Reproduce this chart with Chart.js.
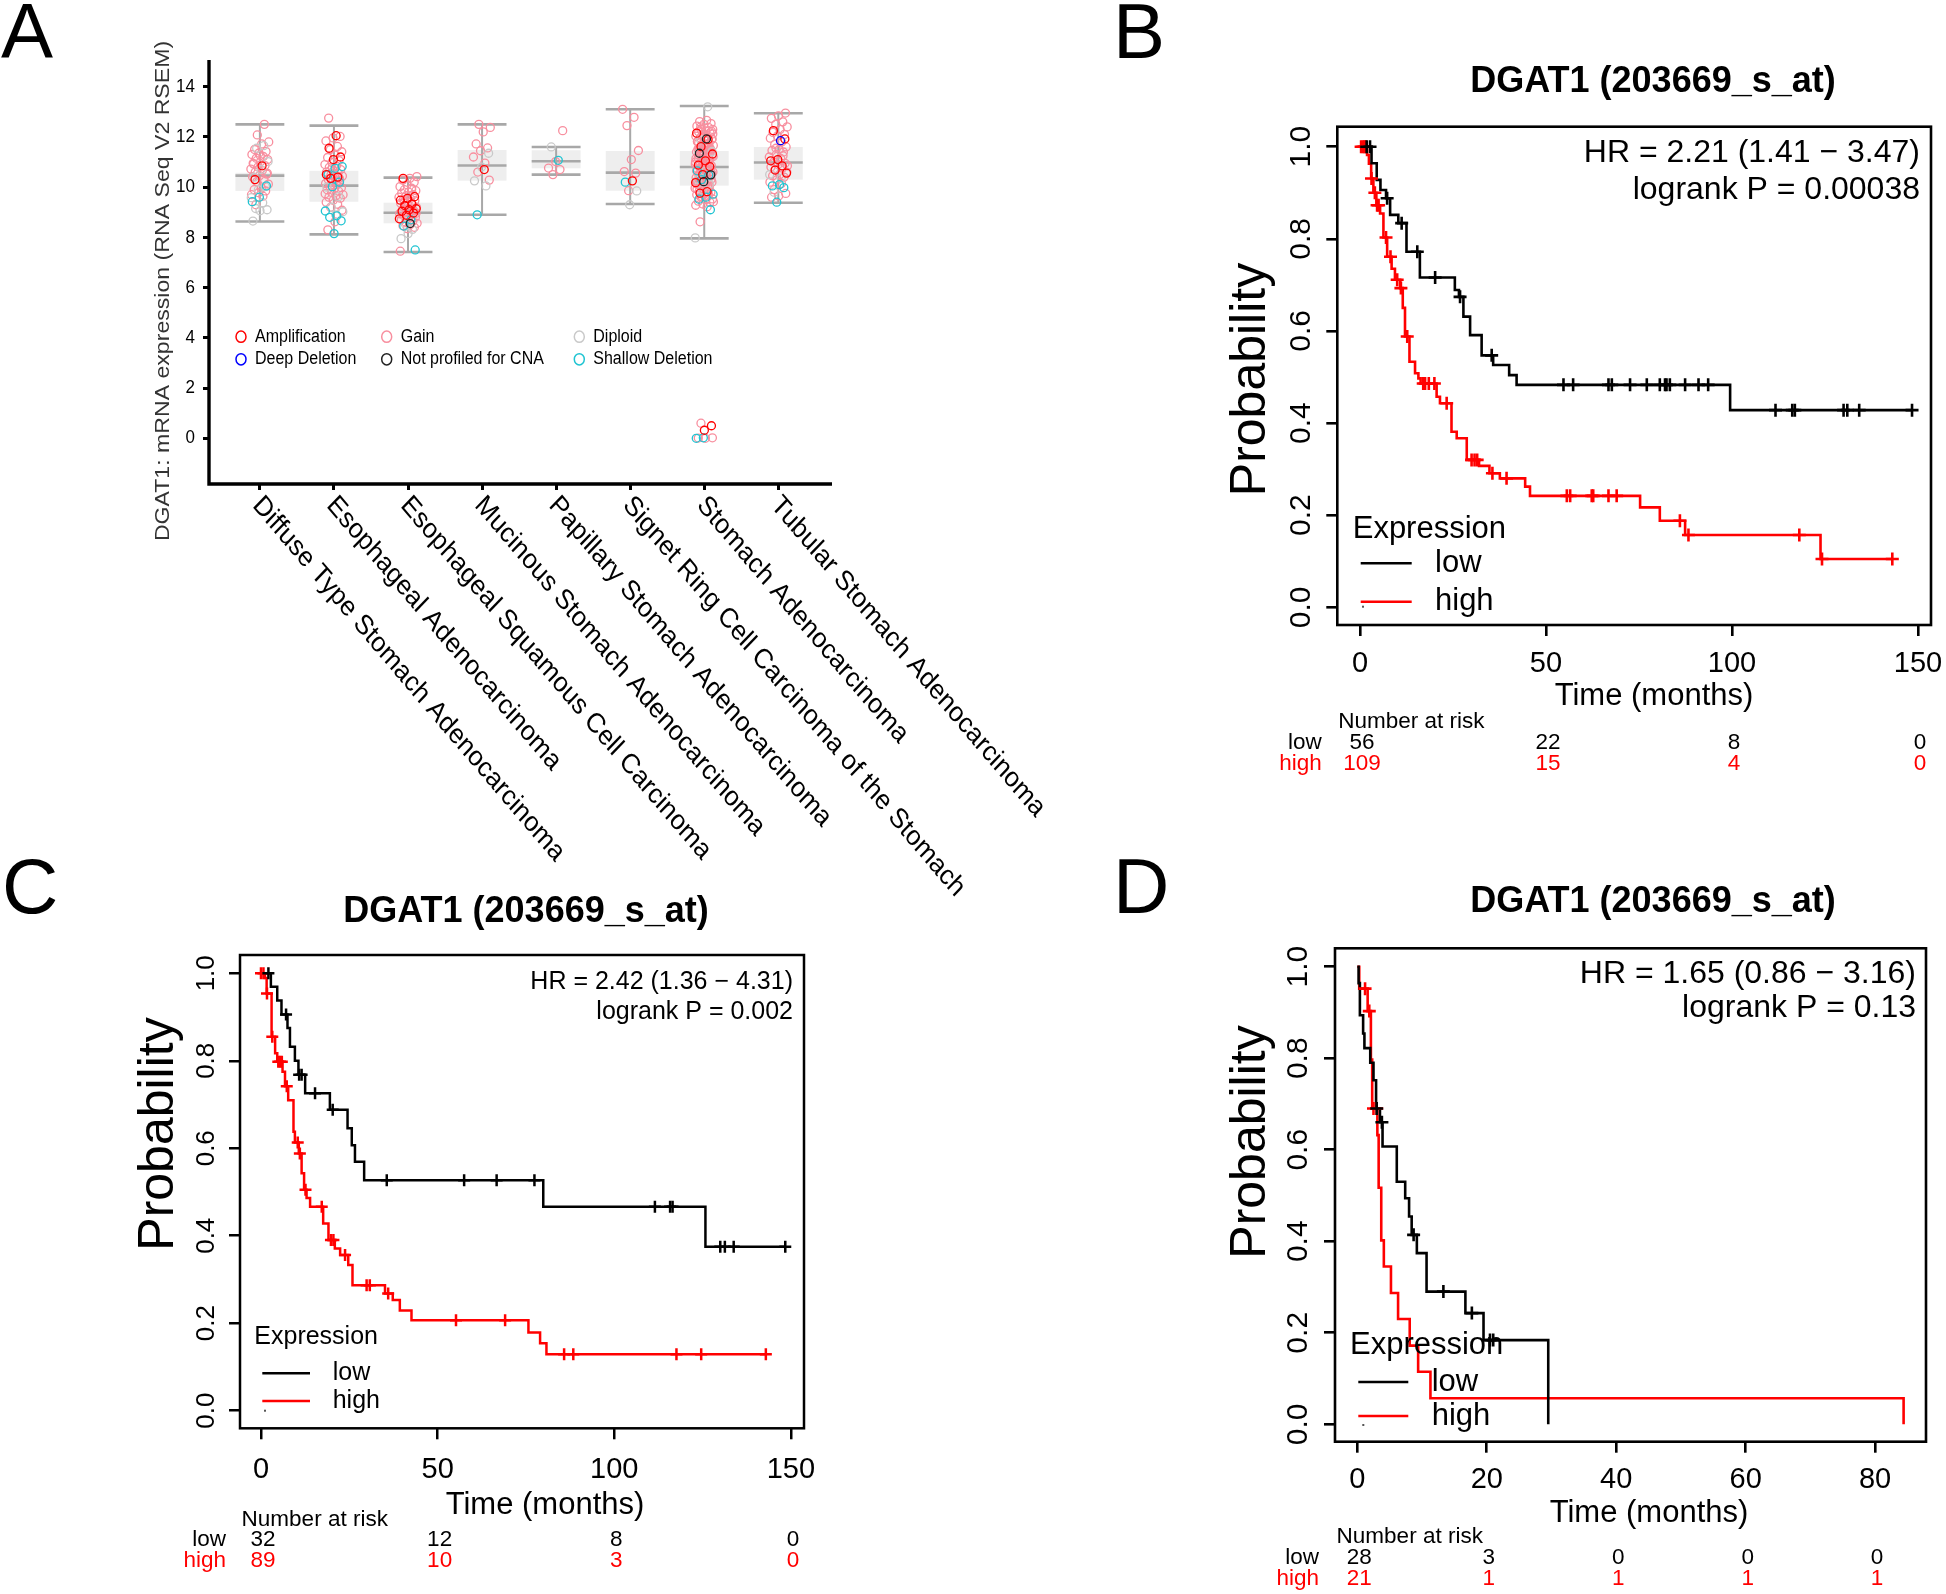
<!DOCTYPE html>
<html>
<head>
<meta charset="utf-8">
<script src="https://cdn.jsdelivr.net/npm/chart.js@4.4.1/dist/chart.umd.min.js"></script>
<style>
  html, body { margin: 0; padding: 0; background: #fff; }
  #page { position: relative; width: 1946px; height: 1594px; overflow: hidden; background: #fff; }
  canvas { position: absolute; left: 0; top: 0; }
</style>
</head>
<body>
<div id="page">
  <canvas id="panelA" width="1946" height="1594"></canvas>
  <canvas id="panelB" width="1946" height="1594"></canvas>
  <canvas id="panelC" width="1946" height="1594"></canvas>
  <canvas id="panelD" width="1946" height="1594"></canvas>
</div>
<script>
// ---------- Panel A data: DGAT1 mRNA by cancer type ----------
const cancerTypes = [
  "Diffuse Type Stomach Adenocarcinoma", "Esophageal Adenocarcinoma",
  "Esophageal Squamous Cell Carcinoma", "Mucinous Stomach Adenocarcinoma",
  "Papillary Stomach Adenocarcinoma", "Signet Ring Cell Carcinoma of the Stomach",
  "Stomach Adenocarcinoma", "Tubular Stomach Adenocarcinoma"
];
const exprTicks = [0, 2, 4, 6, 8, 10, 12, 14];
const whiskerLow  = [8.63, 8.12, 7.42, 8.90, 10.50, 9.33, 7.96, 9.38];
const boxQ1       = [9.85, 9.42, 8.56, 10.26, 10.75, 9.86, 10.06, 10.30];
const boxMedian   = [10.46, 10.06, 8.98, 10.86, 11.03, 10.58, 10.80, 10.98];
const boxQ3       = [10.57, 10.65, 9.38, 11.48, 11.47, 11.44, 11.44, 11.60];
const whiskerHigh = [12.50, 12.45, 10.38, 12.50, 11.60, 13.10, 13.23, 12.94];

// [category index, expression]
const ampExpr = [[0,10.85],[0,10.3],[1,12.05],[1,11.55],[1,11.2],[1,11.1],[1,10.5],[1,10.4],[1,10.35],
  [2,10.35],[2,9.62],[2,9.55],[2,9.48],[2,9.33],[2,9.27],[2,9.14],[2,9.1],[2,9.04],[2,8.97],[2,8.88],[2,8.74],
  [3,10.7],[5,10.25],[6,12.15],[6,11.9],[6,11.61],[6,11.32],[6,11.05],[6,10.88],[6,10.82],[6,10.5],[6,10.18],
  [6,9.82],[6,9.76],[6,0.5],[6,0.32],[7,12.25],[7,11.92],[7,11.1],[7,11.05],[7,10.85],[7,10.68],[7,10.56]];
const deepExpr = [[7,11.85]];
const notProfiledExpr = [[2,8.55],[6,11.92],[6,11.35],[6,10.49],[6,10.22]];
const shallowExpr = [[0,10.05],[0,9.6],[0,9.42],[1,10.82],[1,10.75],[1,10.5],[1,10.2],[1,10.02],[1,9.05],[1,8.86],
  [1,8.8],[1,8.66],[1,8.15],[2,8.7],[2,8.45],[2,7.5],[3,8.9],[4,11.07],[5,10.2],[6,10.65],[6,10.48],[6,10.3],
  [6,9.72],[6,9.6],[6,9.52],[6,9.1],[6,0.02],[6,0.0],[7,10.1],[7,10.05],[7,9.98],[7,9.4]];
const diploidExpr = [[0,11.65],[0,11.55],[0,11.02],[0,10.7],[0,10.4],[0,10.02],[0,9.9],[0,9.58],[0,9.38],[0,9.15],
  [0,9.1],[0,9.06],[0,8.65],[1,10.0],[1,9.62],[1,9.2],[1,9.02],[1,8.9],[2,8.15],[2,7.95],[2,8.32],[2,8.52],
  [3,11.35],[3,10.8],[3,10.25],[3,10.05],[4,11.6],[5,9.85],[5,9.3],[6,13.2],[6,11.88],[6,11.42],[6,10.62],
  [6,10.3],[6,10.12],[6,9.9],[6,7.98],[7,10.5],[7,10.35],[7,9.8]];
const gainByType = [
  [12.5,12.08,11.8,11.72,11.5,11.42,11.36,11.3,11.22,11.15,11.1,11.02,10.92,10.86,10.8,10.72,10.66,10.6,10.52,
   10.46,10.41,10.3,10.22,10.12,9.96,9.9,9.85,9.78,9.7,9.64,9.3,10.55,11.26,10.95],
  [12.75,12.02,11.96,11.84,11.62,11.5,11.41,11.28,11.18,11.06,10.98,10.9,10.84,10.79,10.7,10.64,10.6,10.56,10.48,
   10.44,10.38,10.3,10.26,10.2,10.14,10.1,10.04,9.98,9.94,9.9,9.84,9.79,9.7,9.66,9.6,9.56,9.48,9.4,9.32,9.2,9.08,
   8.62,8.3,10.35,10.74,9.74],
  [10.42,10.35,10.28,10.2,10.1,10.02,9.96,9.9,9.86,9.8,9.76,9.7,9.66,9.6,9.54,9.5,9.46,9.4,9.36,9.3,9.24,9.2,9.16,
   9.1,9.06,9.0,8.94,8.9,8.86,8.8,8.74,8.7,8.64,8.6,8.56,8.5,8.46,8.4,8.35,7.45,9.92,9.44,8.96,9.12],
  [12.5,12.38,12.2,11.72,11.56,11.45,11.2,10.96,10.6,10.28],
  [12.25,11.02,10.76,10.7,10.5],
  [13.1,12.78,12.45,11.46,11.1,10.62,10.56,9.86],
  [12.66,12.61,12.53,12.5,12.43,12.38,12.31,12.3,12.24,12.21,12.16,12.1,12.03,12.0,11.97,11.9,11.85,11.81,11.73,
   11.7,11.66,11.6,11.57,11.5,11.43,11.4,11.37,11.3,11.26,11.2,11.17,11.1,11.03,11.0,10.97,10.9,10.86,10.8,10.73,
   10.7,10.67,10.6,10.55,10.5,10.43,10.4,10.37,10.3,10.26,10.2,10.16,10.1,10.04,10.0,9.96,9.9,9.85,9.8,9.74,9.7,
   9.65,9.6,9.53,9.5,9.44,9.4,9.33,9.28,9.22,8.62,12.22,12.02,11.82,11.63,11.42,11.22,11.02,10.83,10.62,10.42,
   10.22,10.02,12.4,11.92,11.71,11.52,11.33,11.12,10.92,10.71,10.52,10.32,10.12,9.92,9.72,12.28,12.12,11.94,
   11.76,11.54,11.34,11.14,10.94,10.76,10.54,10.34,10.14,9.94,9.62,9.42,11.05,11.25,11.45,11.65,10.65,10.85,
   0.6,0.02,0.0,0.01],
  [12.95,12.84,12.74,12.6,12.5,12.4,12.3,12.18,12.1,12.04,11.95,11.8,11.7,11.6,11.5,11.46,11.4,11.3,11.2,11.14,
   11.0,10.95,10.9,10.8,10.75,10.7,10.6,10.5,10.45,10.4,10.3,10.2,10.15,9.9,9.75,9.65,9.6,11.25,11.55,10.85]
];

// ---------- Panels B, C, D: Kaplan-Meier data ----------
// B
const bLowTimes = [3.1, 4.5, 5.5, 7.0, 8.1, 10.3, 12.5, 16.1, 25.5, 26.6, 27.8, 29.6, 32.7, 35.8, 40.1, 42.1, 99.5];
const bLowSurv  = [0.964, 0.928, 0.906, 0.888, 0.852, 0.834, 0.772, 0.716, 0.689, 0.674, 0.631, 0.591, 0.547, 0.526, 0.504, 0.483, 0.428];
const bLowCens  = [1.8, 2.7, 7.3, 11.2, 15.4, 20.2, 26.9, 35.4, 54.7, 57.3, 66.8, 67.7, 72.6, 77.1, 80.6, 82.0, 82.4, 83.3, 87.4, 91.0, 93.6, 111.7, 116.2, 116.9, 130.0, 131.0, 134.2, 148.4];
const bLowEnd = 148.4;
const bHighTimes = [1.9, 2.4, 3.0, 3.6, 4.4, 5.4, 6.3, 7.3, 8.5, 9.4, 10.8, 11.5, 12.1, 13.3, 14.8, 15.7, 16.3, 20.6, 21.5, 24.6, 26.0, 28.7, 32.0, 34.8, 37.6, 44.4, 45.7, 75.3, 80.6, 87.4, 123.8];
const bHighSurv  = [0.982, 0.963, 0.931, 0.9, 0.873, 0.855, 0.803, 0.761, 0.735, 0.711, 0.693, 0.65, 0.588, 0.533, 0.508, 0.497, 0.486, 0.457, 0.443, 0.381, 0.367, 0.32, 0.307, 0.291, 0.28, 0.262, 0.242, 0.217, 0.188, 0.157, 0.105];
const bHighCens  = [0.3, 0.8, 1.2, 1.5, 3.1, 4.0, 4.6, 5.0, 7.0, 8.2, 10.0, 11.0, 12.7, 17.0, 17.5, 18.5, 20.0, 23.3, 30.0, 30.8, 31.5, 35.6, 39.4, 55.6, 56.5, 62.3, 62.7, 66.8, 69.0, 86.0, 88.3, 118.1, 124.2, 143.1];
const bHighEnd = 143.1;
const bRiskLow = [56, 22, 8, 0];
const bRiskHigh = [109, 15, 4, 0];
const bStats = ["HR = 2.21 (1.41 \u2212 3.47)", "logrank P = 0.00038"];
// C
const cLowTimes = [2.8, 4.6, 5.8, 7.5, 8.2, 9.6, 10.6, 12.5, 19.5, 24.5, 25.7, 26.6, 29.2, 79.9, 125.8];
const cLowSurv  = [0.969, 0.938, 0.906, 0.875, 0.832, 0.8, 0.768, 0.726, 0.688, 0.646, 0.607, 0.569, 0.527, 0.466, 0.375];
const cLowCens  = [2.1, 7.1, 10.8, 11.5, 15.3, 20.3, 35.6, 57.5, 66.7, 77.4, 111.5, 115.8, 116.5, 130.0, 131.3, 133.8, 148.4];
const cLowEnd = 148.4;
const cHighTimes = [1.1, 1.6, 3.0, 4.0, 4.6, 6.1, 6.8, 7.7, 9.2, 9.6, 10.7, 11.5, 12.2, 12.9, 13.9, 17.6, 19.1, 20.9, 22.4, 24.7, 25.9, 35.1, 37.3, 39.3, 42.6, 75.7, 79.0, 80.8];
const cHighSurv  = [0.989, 0.954, 0.855, 0.817, 0.798, 0.775, 0.742, 0.71, 0.638, 0.613, 0.588, 0.543, 0.505, 0.486, 0.466, 0.428, 0.39, 0.371, 0.356, 0.333, 0.287, 0.268, 0.253, 0.229, 0.207, 0.179, 0.154, 0.129];
const cHighCens  = [0.0, 0.7, 1.7, 3.2, 4.9, 5.4, 5.9, 7.3, 10.4, 11.0, 12.6, 17.2, 19.8, 20.5, 23.8, 29.9, 30.8, 36.0, 55.2, 69.1, 85.8, 88.4, 117.6, 124.6, 142.9];
const cHighEnd = 142.9;
const cRiskLow = [32, 12, 8, 0];
const cRiskHigh = [89, 10, 3, 0];
const cStats = ["HR = 2.42 (1.36 \u2212 4.31)", "logrank P = 0.002"];
// D
const dLowTimes = [0.2, 0.4, 0.9, 1.1, 2.0, 2.5, 2.9, 3.5, 3.9, 6.1, 7.4, 8.0, 8.4, 9.2, 10.7, 16.7, 19.5, 29.5];
const dLowSurv  = [0.964, 0.894, 0.854, 0.822, 0.79, 0.752, 0.69, 0.66, 0.607, 0.53, 0.494, 0.454, 0.414, 0.374, 0.29, 0.243, 0.184, 0.0];
const dLowCens  = [3.0, 3.8, 8.7, 13.3, 17.7, 20.5, 21.0];
const dLowEnd = 29.5;
const dHighTimes = [0.3, 1.6, 2.1, 2.3, 3.1, 3.3, 3.7, 4.1, 5.2, 6.3, 8.1, 9.4, 11.3, 84.4];
const dHighSurv  = [0.952, 0.903, 0.797, 0.69, 0.632, 0.517, 0.402, 0.345, 0.287, 0.23, 0.172, 0.115, 0.057, 0.0];
const dHighCens  = [1.2, 1.85, 2.5, 3.0];
const dHighEnd = 84.4;
const dRiskLow = [28, 3, 0, 0, 0];
const dRiskHigh = [21, 1, 1, 1, 1];
const dStats = ["HR = 1.65 (0.86 \u2212 3.16)", "logrank P = 0.13"];

const kmTitle = "DGAT1 (203669_s_at)";
const probTicks = [0, 0.2, 0.4, 0.6, 0.8, 1.0];

// ---------- helpers ----------
const W = 1946, H = 1594;
const FAM = '"Liberation Sans", Arial, Helvetica, sans-serif';
const font = (px, bold) => (bold ? 'bold ' : '') + px + 'px ' + FAM;

function txt(ctx, s, x, y, o) {
  ctx.save();
  ctx.translate(x, y);
  if (o.sy) ctx.scale(1, o.sy);
  if (o.rot) ctx.rotate(o.rot);
  ctx.font = o.font;
  ctx.fillStyle = o.color || '#000';
  ctx.textAlign = o.align || 'left';
  ctx.textBaseline = o.base || 'middle';
  ctx.fillText(s, 0, o.dy || 0);
  ctx.restore();
}
function seg(ctx, x1, y1, x2, y2) {
  ctx.beginPath(); ctx.moveTo(x1, y1); ctx.lineTo(x2, y2); ctx.stroke();
}
function padFor(area) {
  return { left: area[0], top: area[1], right: W - area[2], bottom: H - area[3] };
}

// ---------- Panel A ----------
const jitterCount = cancerTypes.map(() => 0);
function jittered(pairs) {
  return pairs.map(([c, v]) => {
    const k = ++jitterCount[c];
    return { x: c + (((k * 0.6180339887) % 1) - 0.5) * 0.25, y: v };
  });
}
const gainPairs = [];
gainByType.forEach((vals, c) => vals.forEach(v => gainPairs.push([c, v])));

const cnaTypes = [
  { label: 'Deep Deletion', color: '#0000ff', pts: deepExpr },
  { label: 'Not profiled for CNA', color: '#222222', pts: notProfiledExpr },
  { label: 'Amplification', color: '#ff0000', pts: ampExpr },
  { label: 'Shallow Deletion', color: '#20c4d2', pts: shallowExpr },
  { label: 'Diploid', color: '#c9c9c9', pts: diploidExpr },
  { label: 'Gain', color: '#f88f9f', pts: gainPairs }
];
const legendA = [
  ['Amplification', '#ff0000', 0, 0], ['Gain', '#f88f9f', 1, 0], ['Diploid', '#c9c9c9', 2, 0],
  ['Deep Deletion', '#0000ff', 0, 1], ['Not profiled for CNA', '#222222', 1, 1], ['Shallow Deletion', '#20c4d2', 2, 1]
];

const boxPlugin = {
  id: 'boxes',
  beforeDatasetsDraw(chart) {
    const { ctx, scales: { x, y } } = chart;
    ctx.save();
    cancerTypes.forEach((_, i) => {
      const xl = x.getPixelForValue(i - 0.33), xr = x.getPixelForValue(i + 0.33), xc = x.getPixelForValue(i);
      const yT = y.getPixelForValue(boxQ3[i]), yB = y.getPixelForValue(boxQ1[i]);
      ctx.fillStyle = '#eeeeee';
      ctx.fillRect(xl, yT, xr - xl, yB - yT);
      ctx.strokeStyle = '#a8a8a8';
      ctx.lineWidth = 2;
      seg(ctx, xc, y.getPixelForValue(whiskerLow[i]), xc, y.getPixelForValue(whiskerHigh[i]));
      ctx.lineWidth = 2.6;
      [whiskerLow[i], boxMedian[i], whiskerHigh[i]].forEach(v => {
        const py = y.getPixelForValue(v);
        seg(ctx, xl, py, xr, py);
      });
    });
    ctx.restore();
  },
  afterDraw(chart) {
    const { ctx, chartArea: a, scales: { x, y } } = chart;
    const sy = 1.1;
    ctx.save();
    ctx.strokeStyle = '#000';
    ctx.lineWidth = 3.4;
    ctx.beginPath();
    ctx.moveTo(a.left, a.top); ctx.lineTo(a.left, a.bottom); ctx.lineTo(a.right, a.bottom);
    ctx.stroke();
    exprTicks.forEach(v => txt(ctx, String(v), 195, y.getPixelForValue(v), { font: font(17), align: 'right', sy }));
    txt(ctx, 'DGAT1: mRNA expression (RNA Seq V2 RSEM)', 163, 291,
      { font: font(21), align: 'center', rot: -Math.PI / 2, sy, color: '#333' });
    const ang = Math.atan(Math.tan(49.6 * Math.PI / 180) / sy);
    cancerTypes.forEach((name, i) => {
      txt(ctx, name, x.getPixelForValue(i) + 5, a.bottom + 8.5,
        { font: font(25.3), rot: ang, sy, base: 'alphabetic', dy: 25.3 * 0.716 });
    });
    const colX = [241, 386.7, 579.3], rowY = [336.7, 359.3];
    legendA.forEach(([lab, col, c, r]) => {
      ctx.strokeStyle = col;
      ctx.lineWidth = 1.5;
      ctx.beginPath();
      ctx.ellipse(colX[c], rowY[r], 5, 5.6, 0, 0, Math.PI * 2);
      ctx.stroke();
      txt(ctx, lab, colX[c] + 14, rowY[r], { font: font(16), sy });
    });
    txt(ctx, 'A', 1, 58, { font: font(78), base: 'alphabetic' });
    ctx.restore();
  }
};

new Chart(document.getElementById('panelA'), {
  type: 'scatter',
  data: {
    datasets: cnaTypes.map(t => ({
      label: t.label, data: jittered(t.pts),
      pointRadius: 4, pointBorderWidth: 1.3,
      pointBorderColor: t.color, pointBackgroundColor: 'rgba(0,0,0,0)', pointHoverRadius: 4
    }))
  },
  options: {
    responsive: false, animation: false, events: [], devicePixelRatio: 1,
    layout: { padding: padFor([209, 60, 832, 484]) },
    plugins: { legend: { display: false }, tooltip: { enabled: false } },
    scales: {
      x: {
        type: 'linear', min: -0.687, max: 7.725,
        afterBuildTicks: s => { s.ticks = cancerTypes.map((_, i) => ({ value: i })); },
        afterFit: s => { s.height = 0; },
        ticks: { display: false },
        grid: { drawOnChartArea: false, tickLength: 6, color: '#000', lineWidth: 3 },
        border: { display: false }
      },
      y: {
        type: 'linear', min: -1.82, max: 15.063,
        afterBuildTicks: s => { s.ticks = exprTicks.map(v => ({ value: v })); },
        afterFit: s => { s.width = 0; },
        ticks: { display: false },
        grid: { drawOnChartArea: false, tickLength: 6, color: '#000', lineWidth: 3 },
        border: { display: false }
      }
    }
  },
  plugins: [boxPlugin]
});

// ---------- KM panels ----------
function stepData(times, surv, end) {
  const pts = [{ x: 0, y: 1 }];
  times.forEach((t, i) => pts.push({ x: t, y: surv[i] }));
  pts.push({ x: end, y: surv[surv.length - 1] });
  return pts;
}
function censorData(times, surv, cens) {
  return cens.map(t => {
    let s = 1;
    times.forEach((ti, i) => { if (ti <= t) s = surv[i]; });
    return { x: t, y: s };
  });
}

function kmChart(id, g) {
  const lineDs = (d, col) => ({ data: d, stepped: true, borderColor: col, borderWidth: g.lw, pointRadius: 0, fill: false });
  const censDs = (d, col) => ({
    data: d, showLine: false, pointStyle: 'cross', pointRadius: g.cross, pointHoverRadius: g.cross,
    pointBorderColor: col, pointBackgroundColor: col, pointBorderWidth: g.lw
  });
  const decor = {
    id: 'kmDecor',
    afterDraw(chart) {
      const { ctx, chartArea: a, scales: { x, y } } = chart;
      ctx.save();
      ctx.strokeStyle = '#000';
      ctx.lineWidth = g.lw;
      ctx.strokeRect(a.left, a.top, a.right - a.left, a.bottom - a.top);
      probTicks.forEach(v => txt(ctx, v.toFixed(1), g.yLabX, y.getPixelForValue(v),
        { font: font(g.yTickFont), align: 'center', rot: -Math.PI / 2 }));
      g.xTicks.forEach(v => txt(ctx, String(v), x.getPixelForValue(v), g.xLabY,
        { font: font(g.xTickFont), align: 'center' }));
      txt(ctx, 'Probability', g.prob[0], g.prob[1], { font: font(50), align: 'center', rot: -Math.PI / 2 });
      txt(ctx, 'Time (months)', g.time[0], g.time[1], { font: font(31), align: 'center' });
      txt(ctx, kmTitle, g.title[0], g.title[1], { font: font(36, true), align: 'center' });
      txt(ctx, g.stats[0], g.hrX, g.hrY[0], { font: font(g.hrFont), align: 'right' });
      txt(ctx, g.stats[1], g.hrX, g.hrY[1], { font: font(g.hrFont), align: 'right' });
      // legend
      const L = g.legend;
      txt(ctx, 'Expression', L.x, L.y, { font: font(L.font) });
      ctx.lineWidth = g.lw;
      ctx.strokeStyle = '#000'; seg(ctx, L.lineX[0], L.lowY, L.lineX[1], L.lowY);
      ctx.strokeStyle = '#ff0000'; seg(ctx, L.lineX[0], L.highY, L.lineX[1], L.highY);
      txt(ctx, 'low', L.textX, L.lowY, { font: font(L.font) });
      txt(ctx, 'high', L.textX, L.highY, { font: font(L.font) });
      ctx.fillStyle = '#555';
      ctx.fillRect(L.dot[0] - 1, L.dot[1] - 1, 2, 2);
      // number at risk
      const R = g.risk;
      txt(ctx, 'Number at risk', R.titleX, R.titleY, { font: font(22.5) });
      txt(ctx, 'low', R.labelX, R.lowY, { font: font(22.5), align: 'right' });
      txt(ctx, 'high', R.labelX, R.highY, { font: font(22.5), align: 'right', color: '#ff0000' });
      g.xTicks.forEach((v, i) => {
        const px = x.getPixelForValue(v) + 2;
        txt(ctx, String(g.riskLow[i]), px, R.lowY, { font: font(22.5), align: 'center' });
        txt(ctx, String(g.riskHigh[i]), px, R.highY, { font: font(22.5), align: 'center', color: '#ff0000' });
      });
      txt(ctx, g.letter[0], g.letter[1], g.letter[2], { font: font(78), base: 'alphabetic' });
      ctx.restore();
    }
  };
  new Chart(document.getElementById(id), {
    type: 'line',
    data: {
      datasets: [
        censDs(censorData(g.low[0], g.low[1], g.low[2]), '#000'),
        censDs(censorData(g.high[0], g.high[1], g.high[2]), '#ff0000'),
        lineDs(stepData(g.low[0], g.low[1], g.low[3]), '#000'),
        lineDs(stepData(g.high[0], g.high[1], g.high[3]), '#ff0000')
      ]
    },
    options: {
      responsive: false, animation: false, events: [], devicePixelRatio: 1,
      layout: { padding: padFor(g.area) },
      plugins: { legend: { display: false }, tooltip: { enabled: false } },
      scales: {
        x: {
          type: 'linear', min: g.xr[0], max: g.xr[1],
          afterBuildTicks: s => { s.ticks = g.xTicks.map(v => ({ value: v })); },
          afterFit: s => { s.height = 0; },
          ticks: { display: false },
          grid: { drawOnChartArea: false, tickLength: 11, color: '#000', lineWidth: g.lw },
          border: { display: false }
        },
        y: {
          type: 'linear', min: g.yr[0], max: g.yr[1],
          afterBuildTicks: s => { s.ticks = probTicks.map(v => ({ value: v })); },
          afterFit: s => { s.width = 0; },
          ticks: { display: false },
          grid: { drawOnChartArea: false, tickLength: 11, color: '#000', lineWidth: g.lw },
          border: { display: false }
        }
      }
    },
    plugins: [decor]
  });
}

kmChart('panelB', {
  low: [bLowTimes, bLowSurv, bLowCens, bLowEnd], high: [bHighTimes, bHighSurv, bHighCens, bHighEnd],
  riskLow: bRiskLow, riskHigh: bRiskHigh, stats: bStats,
  area: [1337.3, 126.7, 1931, 625], xr: [-6.1, 153.5], yr: [-0.0384, 1.0434], xTicks: [0, 50, 100, 150],
  lw: 2.6, cross: 6.5, title: [1653, 82], yLabX: 1301.6, yTickFont: 30, xLabY: 663.5, xTickFont: 29,
  prob: [1251.6, 379.5], time: [1654, 696.7], hrX: 1920, hrY: [153.3, 190], hrFont: 32,
  legend: { x: 1352.7, y: 529, lineX: [1360.7, 1411.7], lowY: 563.3, highY: 601.7, textX: 1435, font: 31, dot: [1363, 606.7] },
  risk: { titleX: 1338.3, titleY: 721.7, labelX: 1321.7, lowY: 742.3, highY: 763.3 },
  letter: ['B', 1113, 58]
});
kmChart('panelC', {
  low: [cLowTimes, cLowSurv, cLowCens, cLowEnd], high: [cHighTimes, cHighSurv, cHighCens, cHighEnd],
  riskLow: cRiskLow, riskHigh: cRiskHigh, stats: cStats,
  area: [240, 955, 804, 1428.3], xr: [-5.94, 153.7], yr: [-0.0402, 1.0418], xTicks: [0, 50, 100, 150],
  lw: 2.5, cross: 6, title: [526, 912], yLabX: 206.5, yTickFont: 26, xLabY: 1470, xTickFont: 29,
  prob: [159, 1134], time: [545, 1505], hrX: 793, hrY: [981.7, 1011.7], hrFont: 25,
  legend: { x: 254.3, y: 1337.3, lineX: [262.3, 310], lowY: 1373.3, highY: 1401, textX: 332.7, font: 25, dot: [265, 1410.7] },
  risk: { titleX: 241.6, titleY: 1520, labelX: 226, lowY: 1540, highY: 1561 },
  letter: ['C', 2, 913]
});
kmChart('panelD', {
  low: [dLowTimes, dLowSurv, dLowCens, dLowEnd], high: [dHighTimes, dHighSurv, dHighCens, dHighEnd],
  riskLow: dRiskLow, riskHigh: dRiskHigh, stats: dStats,
  area: [1335, 948.3, 1926, 1441.7], xr: [-3.445, 87.86], yr: [-0.038, 1.0402], xTicks: [0, 20, 40, 60, 80],
  lw: 2.6, cross: 6.5, title: [1653, 902], yLabX: 1298.7, yTickFont: 30, xLabY: 1480, xTickFont: 29,
  prob: [1251, 1142], time: [1649, 1513], hrX: 1916, hrY: [974, 1008], hrFont: 32,
  legend: { x: 1350, y: 1345.7, lineX: [1358.3, 1408.3], lowY: 1382, highY: 1416, textX: 1431.7, font: 31, dot: [1363.3, 1425] },
  risk: { titleX: 1336.6, titleY: 1536.5, labelX: 1319, lowY: 1557.5, highY: 1578.6 },
  letter: ['D', 1113, 913]
});
</script>
</body>
</html>
